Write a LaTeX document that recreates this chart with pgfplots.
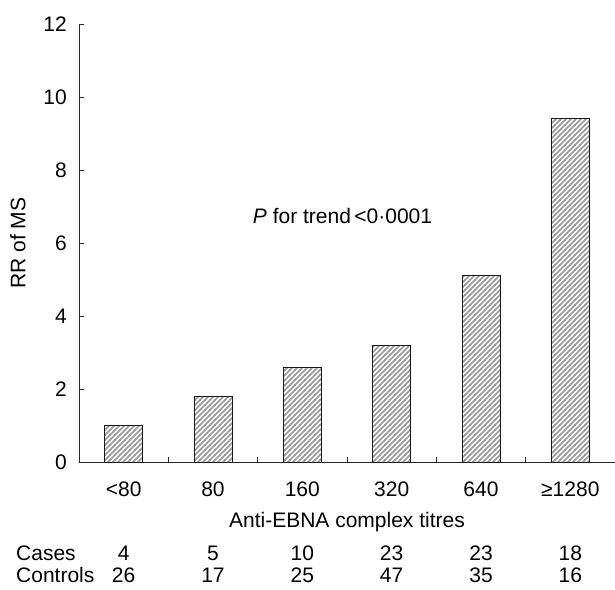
\documentclass[border=0pt]{standalone}
\usepackage{pgfplots}
\pgfplotsset{compat=1.18}
\usepackage{fontspec}
\setmainfont{Liberation Sans}
\usetikzlibrary{patterns}
\pgfdeclarepatternformonly{myhatch}{\pgfqpoint{-1bp}{-1bp}}{\pgfqpoint{6bp}{6bp}}{\pgfqpoint{5bp}{5bp}}{%
  \pgfsetlinewidth{1.7bp}%
  \pgfpathmoveto{\pgfqpoint{-0.5bp}{-0.5bp}}%
  \pgfpathlineto{\pgfqpoint{5.5bp}{5.5bp}}%
  \pgfusepath{stroke}}
\begin{document}
\fontsize{21bp}{25bp}\selectfont
\begin{tikzpicture}
\begin{axis}[
  at={(0,0)}, anchor=south west,
  scale only axis, width=536bp, height=438bp,
  xmin=-0.5, xmax=5.5, ymin=0, ymax=12,
  axis x line=bottom, axis y line=left,
  axis line style={-, line width=0.9bp, black!85},
  ytick={0,2,...,12},
  xtick={0,...,5},
  xticklabels={<80,80,160,320,640,≥1280},
  minor xtick={0.5,1.5,2.5,3.5,4.5},
  major x tick style={draw=none},
  tick style={line width=0.9bp, black!85},
  tick align=inside,
  major tick length=5bp, minor tick length=5bp,
  /pgf/number format/assume math mode=true,
  tick label style={font=\fontsize{21bp}{25bp}\selectfont},
  xticklabel style={yshift=-13bp},
  yticklabel style={xshift=-5bp},
  ylabel={RR of MS},
  ylabel style={font=\fontsize{21bp}{25bp}\selectfont},
  every axis y label/.style={at={(axis description cs:-0.114,0.5)}, rotate=90, anchor=center},
  clip=false,
]
\addplot[ybar, bar width=38bp, draw=black!90, line width=1bp, fill=white,
  postaction={pattern=myhatch, pattern color=black!40}]
  coordinates {(0,1.0) (1,1.8) (2,2.6) (3,3.2) (4,5.1) (5,9.4)};
\node at (axis cs:2.45,6.75) {\textit{P} for trend\,<0·0001};
\node at (axis cs:2.5,-1.64) {Anti-EBNA complex titres};
\node[anchor=west,inner sep=0pt] at (axis cs:-1.205,-2.49) {Cases};
\node[anchor=west,inner sep=0pt] at (axis cs:-1.205,-3.09) {Controls};
\node at (axis cs:0,-2.49) {4};
\node at (axis cs:1,-2.49) {5};
\node at (axis cs:2,-2.49) {10};
\node at (axis cs:3,-2.49) {23};
\node at (axis cs:4,-2.49) {23};
\node at (axis cs:5,-2.49) {18};
\node at (axis cs:0,-3.09) {26};
\node at (axis cs:1,-3.09) {17};
\node at (axis cs:2,-3.09) {25};
\node at (axis cs:3,-3.09) {47};
\node at (axis cs:4,-3.09) {35};
\node at (axis cs:5,-3.09) {16};
\end{axis}
\pgfresetboundingbox
\path (-79bp,-128bp) rectangle (536bp,462bp);
\end{tikzpicture}
\end{document}
